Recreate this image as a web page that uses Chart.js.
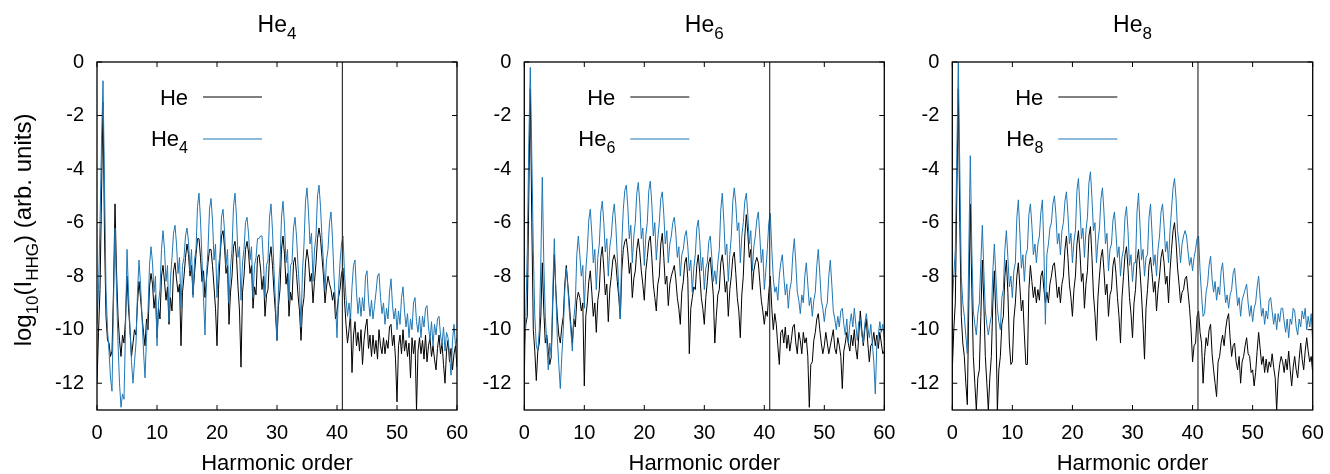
<!DOCTYPE html>
<html>
<head>
<meta charset="utf-8">
<script src="https://cdn.jsdelivr.net/npm/chart.js@4.4.1/dist/chart.umd.min.js"></script>
<style>
  body { margin: 0; background: #fff; }
  #wrap { position: relative; width: 1330px; height: 474px; }
  canvas { position: absolute; top: 0; }
</style>
</head>
<body>
<div id="wrap">
  <canvas id="c1" width="470" height="474" style="left:0px"></canvas>
  <canvas id="c2" width="430" height="474" style="left:470px"></canvas>
  <canvas id="c3" width="430" height="474" style="left:900px"></canvas>
</div>
<script>
// harmonic order (x) of every sample
const orders = [
  0, 0.25, 0.5, 0.75, 1, 1.25, 1.5, 1.75, 2, 2.25, 2.5, 2.75, 3, 3.25, 3.5, 3.75,
  4, 4.25, 4.5, 4.75, 5, 5.25, 5.5, 5.75, 6, 6.25, 6.5, 6.75, 7, 7.25, 7.5, 7.75,
  8, 8.25, 8.5, 8.75, 9, 9.25, 9.5, 9.75, 10, 10.25, 10.5, 10.75, 11, 11.25, 11.5, 11.75,
  12, 12.25, 12.5, 12.75, 13, 13.25, 13.5, 13.75, 14, 14.25, 14.5, 14.75, 15, 15.25, 15.5, 15.75,
  16, 16.25, 16.5, 16.75, 17, 17.25, 17.5, 17.75, 18, 18.25, 18.5, 18.75, 19, 19.25, 19.5, 19.75,
  20, 20.25, 20.5, 20.75, 21, 21.25, 21.5, 21.75, 22, 22.25, 22.5, 22.75, 23, 23.25, 23.5, 23.75,
  24, 24.25, 24.5, 24.75, 25, 25.25, 25.5, 25.75, 26, 26.25, 26.5, 26.75, 27, 27.25, 27.5, 27.75,
  28, 28.25, 28.5, 28.75, 29, 29.25, 29.5, 29.75, 30, 30.25, 30.5, 30.75, 31, 31.25, 31.5, 31.75,
  32, 32.25, 32.5, 32.75, 33, 33.25, 33.5, 33.75, 34, 34.25, 34.5, 34.75, 35, 35.25, 35.5, 35.75,
  36, 36.25, 36.5, 36.75, 37, 37.25, 37.5, 37.75, 38, 38.25, 38.5, 38.75, 39, 39.25, 39.5, 39.75,
  40, 40.25, 40.5, 40.75, 41, 41.25, 41.5, 41.75, 42, 42.25, 42.5, 42.75, 43, 43.25, 43.5, 43.75,
  44, 44.25, 44.5, 44.75, 45, 45.25, 45.5, 45.75, 46, 46.25, 46.5, 46.75, 47, 47.25, 47.5, 47.75,
  48, 48.25, 48.5, 48.75, 49, 49.25, 49.5, 49.75, 50, 50.25, 50.5, 50.75, 51, 51.25, 51.5, 51.75,
  52, 52.25, 52.5, 52.75, 53, 53.25, 53.5, 53.75, 54, 54.25, 54.5, 54.75, 55, 55.25, 55.5, 55.75,
  56, 56.25, 56.5, 56.75, 57, 57.25, 57.5, 57.75, 58, 58.25, 58.5, 58.75, 59, 59.25, 59.5, 59.75,
  60
];

// log10(I_HHG), panel He4 (one row = two harmonic orders)
const he_p1 = [
  -12.0, -10.1, -8.5, -5.0, -1.5, -6.5, -9.5, -10.4,
  -10.5, -11.0, -10.8, -8.5, -5.3, -7.8, -9.5, -10.4,
  -11.0, -10.2, -10.5, -9.6, -8.0, -9.2, -10.0, -11.0,
  -10.5, -10.0, -10.2, -9.0, -8.2, -8.8, -9.5, -10.1,
  -10.6, -9.6, -10.0, -8.4, -7.9, -8.3, -9.2, -8.7,
  -10.3, -9.2, -9.6, -8.0, -7.6, -8.2, -8.9, -8.4,
  -9.8, -8.8, -9.3, -7.8, -7.5, -8.1, -8.6, -8.3,
  -10.6, -8.6, -8.0, -7.3, -6.8, -7.2, -8.0, -7.6,
  -8.7, -7.9, -7.2, -6.6, -6.6, -7.3, -8.2, -7.8,
  -8.8, -8.1, -7.5, -7.0, -7.0, -7.6, -8.4, -9.2,
  -10.6, -8.5, -7.3, -6.5, -6.3, -6.9, -7.9, -7.6,
  -9.8, -8.6, -8.0, -6.9, -6.7, -7.3, -8.4, -9.3,
  -11.4, -8.6, -8.0, -7.0, -6.7, -7.1, -7.9, -7.6,
  -9.2, -8.4, -8.7, -7.3, -7.2, -7.7, -8.5, -8.0,
  -9.5, -8.7, -8.5, -7.3, -6.9, -7.6, -8.6, -9.4,
  -10.4, -9.1, -8.5, -7.0, -6.5, -7.2, -8.3, -7.9,
  -9.5, -8.6, -8.9, -7.5, -7.3, -7.9, -8.7, -9.3,
  -10.4, -9.2, -8.8, -7.5, -7.0, -7.4, -8.2, -7.9,
  -9.0, -8.2, -7.5, -6.6, -6.2, -6.6, -7.3, -8.0,
  -9.0, -8.4, -8.0, -8.3, -8.5, -8.9, -8.6, -9.6,
  -9.3, -8.8, -8.5, -7.9, -7.7, -8.9, -9.8, -10.5,
  -10.0, -9.4, -11.6, -10.2, -9.7, -10.6, -10.1, -10.8,
  -10.0, -11.3, -10.4, -9.9, -9.6, -10.7, -10.2, -11.0,
  -10.2, -10.9, -10.4, -11.1, -10.0, -10.6, -10.9, -10.3,
  -10.9, -10.4, -10.7, -9.9, -9.8, -10.6, -10.2, -11.1,
  -12.7, -10.6, -10.2, -10.9, -10.0, -10.8, -10.4, -11.0,
  -10.5, -11.8, -10.3, -10.9, -10.4, -13.0, -10.8, -10.3,
  -10.9, -10.4, -11.1, -10.2, -11.2, -10.6, -10.3, -11.0,
  -10.6, -11.1, -11.5, -10.7, -10.2, -10.9, -10.5, -11.3,
  -12.0, -10.8, -10.4, -11.2, -10.7, -11.5, -10.9, -10.6,
  -11.4
];
const he4 = [
  -9.8, -8.5, -6.0, -3.0, -0.7, -4.5, -8.5, -10.0,
  -10.8, -11.8, -12.3, -9.0, -6.2, -8.5, -10.5, -12.0,
  -12.9, -12.4, -12.6, -10.0, -7.0, -8.6, -10.0, -11.2,
  -12.0, -11.2, -10.5, -8.6, -7.4, -8.3, -9.5, -10.8,
  -11.8, -10.3, -9.3, -7.6, -6.9, -7.5, -8.6, -8.0,
  -10.6, -9.0, -8.5, -7.0, -6.3, -7.0, -8.2, -7.6,
  -9.7, -8.1, -7.3, -6.4, -6.1, -6.8, -7.9, -7.3,
  -9.2, -7.6, -7.3, -6.5, -6.2, -6.7, -7.8, -7.0,
  -8.8, -7.4, -7.0, -5.4, -4.9, -5.9, -7.4, -8.8,
  -10.2, -8.0, -7.0, -5.5, -5.1, -5.9, -7.4, -6.8,
  -8.8, -7.6, -7.2, -5.8, -5.5, -6.3, -7.6, -7.0,
  -9.0, -7.7, -7.0, -5.4, -4.9, -5.8, -7.3, -6.9,
  -8.9, -7.5, -7.0, -6.0, -5.8, -6.4, -7.4, -6.9,
  -8.8, -7.6, -7.3, -6.6, -6.6, -6.5, -6.5, -7.5,
  -8.8, -7.6, -7.4, -5.8, -5.3, -6.3, -7.8, -9.0,
  -10.4, -8.4, -7.5, -5.8, -5.2, -6.1, -7.5, -7.0,
  -8.9, -7.6, -7.5, -6.2, -5.8, -6.5, -7.6, -8.5,
  -9.9, -7.8, -6.8, -5.2, -4.7, -5.6, -6.8, -6.4,
  -8.2, -7.0, -6.5, -5.0, -4.6, -5.4, -6.6, -7.5,
  -8.5, -7.4, -7.0, -6.0, -5.6, -6.6, -8.0, -9.0,
  -10.3, -8.5, -7.5, -6.8, -6.5, -7.9, -8.8, -9.5,
  -9.0, -9.6, -8.4, -7.6, -7.4, -8.6, -9.4, -8.8,
  -9.5, -8.8, -9.3, -8.0, -7.8, -8.9, -9.5, -8.9,
  -9.6, -9.1, -8.6, -8.0, -7.9, -8.8, -9.4, -9.0,
  -9.8, -9.2, -9.6, -8.6, -8.1, -9.1, -9.6, -9.2,
  -10.0, -9.3, -9.8, -8.8, -8.4, -9.3, -9.9, -9.4,
  -10.3, -9.6, -10.0, -9.0, -8.8, -9.7, -10.1, -9.5,
  -10.3, -9.5, -9.9, -9.2, -9.1, -9.9, -10.4, -9.7,
  -10.6, -9.8, -10.2, -9.6, -9.5, -10.2, -10.6, -9.9,
  -10.8, -10.1, -10.3, -10.9, -11.7, -10.4, -9.8, -10.6,
  -10.3
];

// panel He6
const he_p2 = [
  -10.6, -9.8, -9.5, -5.0, -1.0, -6.0, -10.0, -10.8,
  -11.9, -10.8, -10.5, -9.5, -7.5, -9.3, -10.5, -10.2,
  -10.8, -11.3, -11.0, -9.0, -7.2, -8.5, -9.5, -10.2,
  -10.5, -9.9, -9.5, -8.3, -7.6, -8.3, -9.0, -9.8,
  -10.5, -9.6, -9.9, -8.9, -8.6, -8.8, -9.3, -9.0,
  -12.1, -9.5, -9.0, -8.2, -7.8, -8.6, -9.5, -9.0,
  -10.1, -8.9, -8.5, -7.3, -6.9, -7.7, -8.7, -8.3,
  -9.7, -8.5, -8.0, -7.4, -7.2, -7.5, -8.2, -8.8,
  -9.6, -7.8, -7.0, -6.7, -6.6, -7.1, -7.9, -7.5,
  -8.8, -8.1, -7.8, -7.0, -6.6, -7.1, -7.8, -8.3,
  -8.9, -7.8, -7.3, -6.7, -6.5, -7.3, -8.3, -8.8,
  -9.3, -8.3, -8.0, -6.8, -6.4, -7.3, -8.3, -8.0,
  -9.1, -8.3, -8.0, -7.8, -7.6, -8.1, -8.8, -9.2,
  -9.8, -8.6, -8.2, -7.5, -7.3, -8.1, -10.9, -9.2,
  -8.8, -8.4, -8.5, -7.6, -7.2, -7.9, -8.8, -9.2,
  -9.8, -8.8, -8.2, -7.5, -7.3, -8.0, -8.7, -10.5,
  -9.5, -8.7, -8.5, -7.5, -7.2, -7.8, -8.6, -8.2,
  -9.5, -8.5, -8.0, -7.3, -7.1, -7.9, -8.8, -9.3,
  -10.3, -8.7, -8.0, -6.5, -5.7, -6.4, -7.3, -7.0,
  -8.5, -7.8, -7.5, -7.3, -7.5, -8.2, -8.9, -9.3,
  -9.8, -9.3, -9.5, -8.6, -8.0, -9.2, -10.0, -9.4,
  -9.8, -10.6, -11.3, -10.1, -10.0, -10.5, -9.9, -10.7,
  -10.2, -10.8, -10.4, -9.9, -9.8, -10.5, -10.9, -10.1,
  -10.4, -10.9, -10.1, -10.5, -10.3, -11.0, -12.9, -11.3,
  -11.2, -10.4, -10.1, -9.6, -9.4, -10.0, -10.5, -10.9,
  -10.6, -10.1, -10.5, -10.9, -10.6, -10.3, -10.0, -10.7,
  -10.9, -10.3, -10.6, -11.0, -12.2, -10.8, -10.5, -10.1,
  -10.5, -10.8, -10.2, -10.6, -10.0, -10.7, -11.1, -10.2,
  -9.3, -10.0, -10.6, -10.0, -9.6, -10.5, -11.2, -10.6,
  -10.5, -10.1, -10.6, -10.2, -10.7, -10.1, -10.5, -10.9,
  -10.8
];
const he6 = [
  -11.7, -9.5, -7.0, -3.0, -0.2, -3.5, -7.0, -9.5,
  -10.6, -10.8, -10.0, -7.5, -4.3, -7.5, -9.5, -10.5,
  -11.5, -10.5, -11.0, -8.5, -6.6, -8.5, -10.3, -11.3,
  -12.2, -11.0, -10.0, -8.5, -7.7, -8.4, -9.3, -10.0,
  -10.8, -9.6, -9.0, -7.2, -6.5, -7.2, -8.0, -7.6,
  -9.2, -7.8, -7.0, -5.9, -5.5, -6.4, -7.5, -7.0,
  -8.5, -7.3, -6.8, -5.6, -5.2, -6.0, -7.1, -6.6,
  -8.0, -6.9, -6.5, -5.7, -5.3, -6.1, -7.3, -8.5,
  -9.6, -6.8, -5.5, -4.8, -4.6, -5.4, -6.6, -6.1,
  -7.5, -6.5, -6.0, -4.9, -4.5, -5.3, -6.6, -6.2,
  -7.6, -6.5, -6.0, -4.8, -4.45, -5.3, -6.5, -6.0,
  -7.4, -6.6, -6.0, -5.1, -4.85, -5.7, -6.8, -6.3,
  -7.5, -6.8, -6.5, -6.0, -5.8, -6.4, -7.3, -6.9,
  -8.0, -7.2, -7.0, -6.5, -6.3, -6.9, -7.8, -7.4,
  -8.6, -7.7, -7.2, -6.2, -5.9, -6.7, -7.8, -7.3,
  -8.5, -7.7, -7.5, -6.7, -6.5, -7.3, -8.2, -7.8,
  -8.3, -7.5, -7.0, -5.5, -4.9, -5.9, -7.2, -6.8,
  -8.2, -7.2, -6.5, -5.2, -4.7, -5.3, -6.3, -6.0,
  -7.5, -6.5, -6.0, -5.2, -4.9, -5.7, -6.8, -6.3,
  -7.8, -6.9, -6.5, -5.9, -5.6, -6.5, -7.5, -7.0,
  -8.5, -7.8, -7.0, -6.0, -5.65, -7.0, -8.1, -8.6,
  -8.4, -8.9, -8.0, -7.5, -7.2, -8.0, -8.7, -8.3,
  -9.2, -8.5, -8.2, -7.2, -6.6, -7.5, -8.6, -8.9,
  -9.4, -8.7, -9.0, -8.0, -7.5, -8.3, -9.1, -8.8,
  -9.5, -8.9, -8.6, -7.6, -7.0, -7.9, -8.9, -9.2,
  -9.7, -9.2, -9.0, -8.0, -7.4, -8.3, -9.3, -9.6,
  -10.0, -9.5, -9.9, -9.3, -9.2, -9.8, -10.2, -9.6,
  -10.5, -9.8, -9.4, -9.9, -9.2, -9.8, -10.4, -9.7,
  -9.6, -10.2, -10.5, -9.8, -9.4, -9.9, -10.3, -9.8,
  -10.5, -11.2, -12.4, -10.6, -10.2, -9.7, -10.1, -9.8,
  -10.4
];

// panel He8
const he_p3 = [
  -11.5, -10.0, -9.0, -5.0, -1.0, -6.0, -9.5, -10.5,
  -11.0, -12.0, -12.8, -9.0, -5.3, -8.5, -11.0, -12.0,
  -13.0, -11.8, -11.5, -9.5, -7.4, -9.0, -11.0, -12.0,
  -13.0, -11.8, -11.0, -9.0, -7.8, -9.5, -13.0, -11.5,
  -11.0, -9.8, -9.5, -8.0, -7.4, -8.6, -10.5, -11.3,
  -11.2, -9.6, -9.0, -8.0, -7.5, -8.4, -9.3, -8.9,
  -10.2, -11.3, -11.3, -8.5, -7.6, -8.2, -8.8, -8.4,
  -9.0, -8.5, -8.9, -8.0, -7.8, -8.5, -9.0, -8.6,
  -9.0, -8.3, -8.0, -7.6, -7.5, -8.1, -8.8, -8.4,
  -9.0, -8.3, -8.0, -7.0, -6.5, -7.3, -8.3, -8.8,
  -9.5, -8.5, -8.0, -6.8, -6.3, -7.1, -8.2, -7.9,
  -9.2, -8.3, -7.8, -6.5, -6.15, -7.3, -8.7, -9.4,
  -10.4, -8.8, -8.0, -7.3, -7.0, -7.8, -8.7, -8.3,
  -9.5, -8.7, -8.5, -7.6, -7.3, -7.9, -8.8, -9.5,
  -10.5, -8.8, -8.0, -7.2, -6.9, -7.7, -8.8, -9.4,
  -10.3, -9.0, -8.5, -7.4, -7.0, -7.8, -8.7, -9.8,
  -11.1, -9.2, -8.5, -7.6, -7.3, -7.9, -8.6, -8.2,
  -9.3, -8.5, -8.0, -7.3, -7.0, -7.5, -8.3, -8.0,
  -9.0, -7.8, -7.0, -6.3, -6.0, -6.7, -7.7, -8.3,
  -9.0, -8.6, -8.5, -8.1, -8.0, -8.6, -9.2, -10.0,
  -11.2, -10.6, -10.5, -9.5, -9.3, -10.1, -10.5, -12.0,
  -11.0, -10.3, -10.6, -10.0, -9.8, -10.9, -11.5, -12.0,
  -12.5, -11.2, -11.0, -10.5, -10.2, -10.6, -10.0, -9.6,
  -9.4, -10.3, -11.0, -10.6, -10.5, -11.2, -11.5, -11.0,
  -12.0, -11.2, -11.0, -10.6, -10.3, -10.9, -11.0, -11.6,
  -11.5, -12.1, -11.6, -10.8, -10.1, -10.7, -11.3, -11.0,
  -11.6, -11.1, -11.6, -11.2, -11.4, -10.9, -11.4, -11.8,
  -13.0, -11.8, -11.3, -11.0, -11.2, -11.6, -11.1, -11.5,
  -10.8, -11.5, -12.1, -11.4, -11.0, -11.5, -11.8, -11.1,
  -10.5, -11.1, -11.5, -10.8, -10.3, -10.8, -11.2, -11.0,
  -11.6
];
const he8 = [
  -9.0, -8.0, -7.0, -3.5, 0, -4.0, -8.0, -9.0,
  -9.5, -10.2, -10.9, -7.0, -3.5, -7.0, -9.3, -9.8,
  -10.2, -9.4, -9.0, -7.5, -6.1, -7.8, -9.3, -9.8,
  -10.2, -9.8, -9.5, -7.8, -6.8, -8.0, -9.2, -9.7,
  -10.0, -8.8, -8.5, -7.0, -6.3, -7.3, -8.4, -8.0,
  -8.8, -7.8, -7.5, -5.8, -5.15, -6.4, -7.7, -7.2,
  -8.2, -7.2, -7.0, -5.7, -5.3, -6.1, -7.2, -6.8,
  -7.5, -6.8, -6.5, -5.6, -5.15, -7.0, -9.8, -7.2,
  -6.8, -6.2, -6.0, -5.3, -5.0, -5.7, -6.8, -6.4,
  -7.2, -6.3, -6.0, -5.2, -4.85, -5.7, -6.8, -6.4,
  -7.5, -6.7, -6.3, -4.8, -4.35, -5.4, -6.6, -6.2,
  -7.3, -6.3, -5.8, -4.5, -4.1, -5.1, -6.3, -6.0,
  -7.5, -6.7, -6.2, -5.1, -4.7, -5.6, -6.8, -6.4,
  -7.8, -7.0, -6.8, -5.9, -5.6, -6.4, -7.3, -6.9,
  -8.0, -7.3, -7.0, -5.8, -5.4, -6.3, -7.6, -7.2,
  -8.2, -7.5, -7.5, -5.6, -4.9, -6.1, -7.4, -7.0,
  -8.0, -7.3, -7.2, -5.8, -5.3, -6.4, -7.6, -7.2,
  -8.0, -7.0, -6.5, -5.6, -5.3, -6.1, -7.1, -6.7,
  -7.5, -6.3, -5.5, -4.7, -4.35, -5.1, -6.3, -6.8,
  -7.5, -6.8, -6.5, -6.3, -6.5, -7.1, -7.6, -7.3,
  -7.8, -7.3, -7.0, -6.6, -6.5, -7.8, -8.7, -9.5,
  -9.4, -8.6, -8.3, -7.6, -7.25, -8.1, -8.6, -8.2,
  -8.9, -8.4, -8.7, -7.8, -7.5, -8.3, -9.0, -8.7,
  -9.2, -8.7, -8.5, -7.9, -7.7, -8.4, -9.1, -8.8,
  -9.5, -8.9, -8.7, -8.5, -8.3, -9.0, -9.5, -9.1,
  -9.7, -9.2, -9.0, -8.4, -8.0, -8.8, -9.5, -9.2,
  -9.8, -9.3, -9.6, -8.9, -8.8, -9.3, -9.8, -9.4,
  -10.0, -9.4, -9.7, -9.2, -9.2, -9.7, -10.1, -9.6,
  -10.3, -9.6, -9.8, -9.2, -9.3, -9.9, -10.2, -9.6,
  -9.9, -9.3, -9.6, -9.2, -10.0, -9.5, -9.9, -9.4,
  -10.5
];

const xTicks = [0, 10, 20, 30, 40, 50, 60];
const yTicks = [0, -2, -4, -6, -8, -10, -12];
const cutoffOrder = 40.9;

const FONT = '"Liberation Sans", Arial, Helvetica, sans-serif';
const BLUE = '#1f77b4';

function drawRun(ctx, parts, x, y, size, subSize, subDrop, align) {
  let w = 0;
  parts.forEach(p => {
    ctx.font = (p.sub ? subSize : size) + 'px ' + FONT;
    w += ctx.measureText(p.t).width;
  });
  let cx = align === 'right' ? x - w : align === 'center' ? x - w / 2 : x;
  ctx.textAlign = 'left';
  ctx.textBaseline = 'alphabetic';
  parts.forEach(p => {
    ctx.font = (p.sub ? subSize : size) + 'px ' + FONT;
    ctx.fillText(p.t, cx, p.sub ? y + subDrop : y);
    cx += ctx.measureText(p.t).width;
  });
}

const decor = {
  id: 'decor',
  afterDraw(chart, args, opts) {
    const ctx = chart.ctx;
    const a = chart.chartArea;
    const xs = chart.scales.x, ys = chart.scales.y;
    ctx.save();
    ctx.fillStyle = '#000';

    // cutoff line
    ctx.lineWidth = 1.2;
    ctx.strokeStyle = '#333';
    const cx = xs.getPixelForValue(cutoffOrder);
    ctx.beginPath();
    ctx.moveTo(cx, a.top);
    ctx.lineTo(cx, a.bottom);
    ctx.stroke();

    // frame and inward ticks on all four sides
    ctx.strokeStyle = '#000';
    ctx.lineWidth = 1.3;
    ctx.strokeRect(a.left, a.top, a.right - a.left, a.bottom - a.top);
    ctx.lineWidth = 1;
    ctx.beginPath();
    xTicks.forEach(v => {
      const px = xs.getPixelForValue(v);
      ctx.moveTo(px, a.bottom); ctx.lineTo(px, a.bottom - 5);
      ctx.moveTo(px, a.top); ctx.lineTo(px, a.top + 5);
    });
    yTicks.forEach(v => {
      const py = ys.getPixelForValue(v);
      ctx.moveTo(a.left, py); ctx.lineTo(a.left + 5, py);
      ctx.moveTo(a.right, py); ctx.lineTo(a.right - 5, py);
    });
    ctx.stroke();

    const mid = (a.left + a.right) / 2;
    // panel title and x title
    drawRun(ctx, [{ t: 'He' }, { t: opts.sub, sub: true }], mid, 32, 23, 17, 7, 'center');
    drawRun(ctx, [{ t: 'Harmonic order' }], mid, 470, 22, 16, 0, 'center');

    // legend
    const ds = chart.data.datasets;
    const lx = a.left + 91;
    drawRun(ctx, [{ t: 'He' }], lx, 105, 22, 16, 7, 'right');
    drawRun(ctx, [{ t: 'He' }, { t: opts.sub, sub: true }], lx, 146, 22, 16, 7, 'right');
    ctx.lineWidth = 1;
    ctx.strokeStyle = ds[0].borderColor;
    ctx.beginPath(); ctx.moveTo(a.left + 106, 97); ctx.lineTo(a.left + 165, 97); ctx.stroke();
    ctx.strokeStyle = ds[1].borderColor;
    ctx.beginPath(); ctx.moveTo(a.left + 106, 139); ctx.lineTo(a.left + 165, 139); ctx.stroke();

    // y title (first panel only)
    if (opts.yTitle) {
      ctx.translate(31, (a.top + a.bottom) / 2 - 6);
      ctx.rotate(-Math.PI / 2);
      drawRun(ctx, [
        { t: 'log' }, { t: '10', sub: true }, { t: '(I' }, { t: 'HHG', sub: true }, { t: ') (arb. units)' }
      ], 0, 0, 24, 17, 7, 'center');
    }
    ctx.restore();
  }
};

function makePanel(id, sub, heVals, clusterVals, plotLeft, plotRight, yTitle) {
  const canvas = document.getElementById(id);
  const toPts = vals => orders.map((x, i) => ({ x: x, y: vals[i] }));
  return new Chart(canvas, {
    type: 'line',
    data: {
      datasets: [
        { label: 'He', data: toPts(heVals), borderColor: '#000', borderWidth: 1, pointRadius: 0, tension: 0, order: 2 },
        { label: 'He' + sub, data: toPts(clusterVals), borderColor: BLUE, borderWidth: 1, pointRadius: 0, tension: 0, order: 1 }
      ]
    },
    options: {
      responsive: false,
      animation: false,
      devicePixelRatio: 1,
      layout: { padding: { top: 62, right: canvas.width - plotRight, bottom: 0, left: 0 } },
      plugins: {
        legend: { display: false },
        tooltip: { enabled: false },
        decor: { sub: sub, yTitle: yTitle }
      },
      scales: {
        x: {
          type: 'linear', min: 0, max: 60,
          grid: { display: false, drawTicks: false },
          border: { display: false },
          afterBuildTicks: s => { s.ticks = xTicks.map(v => ({ value: v })); },
          afterFit: s => { s.height = 64; s.paddingLeft = 0; s.paddingRight = 0; },
          ticks: { color: '#000', font: { family: FONT, size: 20 }, padding: 11, maxRotation: 0 }
        },
        y: {
          type: 'linear', min: -13, max: 0,
          grid: { display: false, drawTicks: false },
          border: { display: false },
          afterBuildTicks: s => { s.ticks = yTicks.map(v => ({ value: v })); },
          afterFit: s => { s.width = plotLeft; s.paddingTop = 0; s.paddingBottom = 0; },
          ticks: { color: '#000', font: { family: FONT, size: 20 }, padding: 13 }
        }
      }
    },
    plugins: [decor]
  });
}

makePanel('c1', '4', he_p1, he4, 97, 457, true);
makePanel('c2', '6', he_p2, he6, 54.3, 414.3, false);
makePanel('c3', '8', he_p3, he8, 52.3, 412.7, false);
</script>
</body>
</html>
